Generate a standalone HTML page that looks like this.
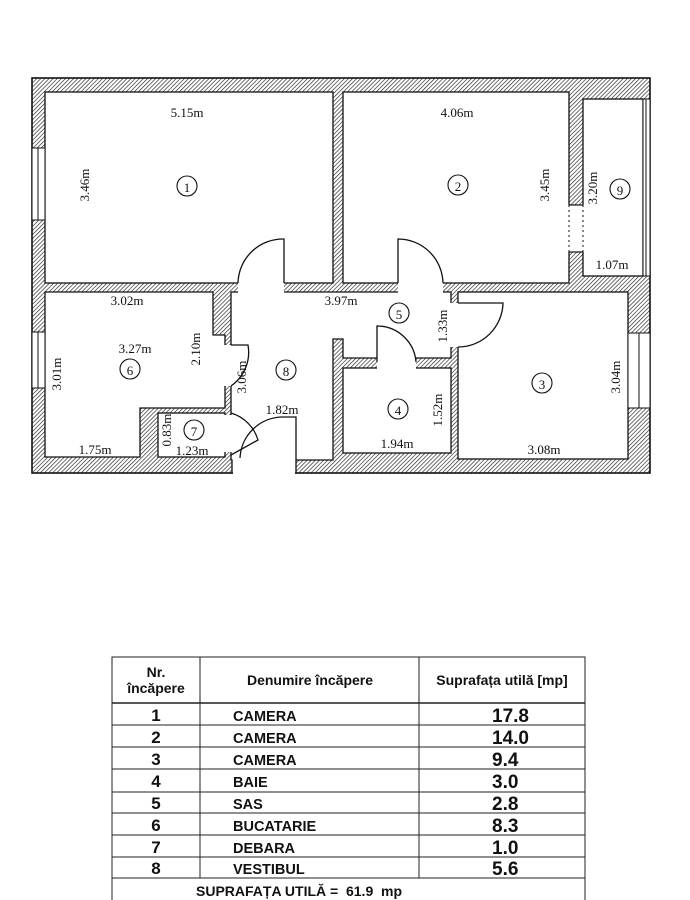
<!DOCTYPE html>
<html><head><meta charset="utf-8"><style>
html,body{margin:0;padding:0;background:#fff;}
svg{display:block;}
.d{font-family:"Liberation Serif",serif;font-size:13px;fill:#111;}
.t{font-family:"Liberation Sans",sans-serif;font-weight:bold;fill:#111;}
</style></head><body>
<svg width="690" height="900" viewBox="0 0 690 900" xmlns="http://www.w3.org/2000/svg">
<defs>
<pattern id="h" width="2.9" height="2.9" patternUnits="userSpaceOnUse" patternTransform="rotate(45)">
<rect width="2.9" height="2.9" fill="#fff"/><line x1="0" y1="0" x2="0" y2="2.9" stroke="#222" stroke-width="1.3"/>
</pattern>
</defs>
<rect x="0" y="0" width="690" height="900" fill="#fff"/>
<rect x="32" y="78" width="618" height="395" fill="url(#h)" stroke="#111" stroke-width="1.6"/>
<g fill="#fff" stroke="#111" stroke-width="1.3">
<rect x="45" y="92" width="288" height="191"/>
<rect x="343" y="92" width="226" height="191"/>
<rect x="583" y="99" width="60" height="177"/>
<polygon points="45,292 213,292 213,335 225,335 225,408 140,408 140,457 45,457"/>
<rect x="158" y="413" width="67" height="44"/>
<polygon points="231,292 451,292 451,358 343,358 343,339 333,339 333,460 296,460 296,473 232,473 232,460 231,460"/>
<rect x="343" y="368" width="108" height="85"/>
<rect x="458" y="292" width="170" height="167"/>
</g>
<g fill="#fff" stroke="none">
<rect x="238" y="282" width="46" height="11"/>
<rect x="398" y="282" width="45" height="11"/>
<rect x="224" y="345" width="8" height="41"/>
<rect x="224" y="415" width="8" height="37"/>
<rect x="233" y="459" width="62" height="15"/>
<rect x="377" y="357" width="39" height="12"/>
<rect x="450" y="303" width="9" height="44"/>
<rect x="568" y="205" width="16" height="47"/>
</g>
<line x1="569" y1="205" x2="569" y2="252" stroke="#111" stroke-dasharray="2,3"/>
<line x1="583" y1="205" x2="583" y2="252" stroke="#111" stroke-dasharray="2,3"/>
<line x1="569" y1="205" x2="583" y2="205" stroke="#111" stroke-width="1.2"/>
<line x1="569" y1="252" x2="583" y2="252" stroke="#111" stroke-width="1.2"/>
<g fill="#fff" stroke="#111" stroke-width="1">
<rect x="32" y="148" width="13" height="72"/><line x1="38" y1="148" x2="38" y2="220"/>
<rect x="32" y="332" width="13" height="56"/><line x1="38" y1="332" x2="38" y2="388"/>
<rect x="628" y="333" width="22" height="75"/><line x1="639" y1="333" x2="639" y2="408"/>
<rect x="643" y="99" width="7" height="177"/><line x1="646" y1="99" x2="646" y2="276"/>
</g>
<g fill="none" stroke="#111" stroke-width="1.3">
<path d="M284,283 L284,239 A45,45 0 0 0 238,283"/>
<path d="M398,283 L398,239 A45,45 0 0 1 443,283"/>
<path d="M231,345 L248,345 A41,41 0 0 1 231,386"/>
<path d="M231,413 A40,40 0 0 1 258,440 L231,455"/>
<path d="M296,460 L296,417 L283,417 A43,43 0 0 0 240,458"/>
<path d="M377,362 L377,326 A39,39 0 0 1 416,362"/>
<path d="M458,303 L503,303 A45,45 0 0 1 458,347"/>
</g>
<g fill="none" stroke="#111" stroke-width="1.1">
<circle cx="187" cy="186" r="10"/><circle cx="458" cy="185" r="10"/><circle cx="620" cy="189" r="10"/>
<circle cx="130" cy="369" r="10"/><circle cx="194" cy="430" r="10"/><circle cx="286" cy="370" r="10"/>
<circle cx="399" cy="313" r="10"/><circle cx="398" cy="409" r="10"/><circle cx="542" cy="383" r="10"/>
</g>
<g class="d" text-anchor="middle" font-size="17">
<text x="187" y="192">1</text><text x="458" y="191">2</text><text x="620" y="195">9</text>
<text x="130" y="375">6</text><text x="194" y="436">7</text><text x="286" y="376">8</text>
<text x="399" y="319">5</text><text x="398" y="415">4</text><text x="542" y="389">3</text>
</g>
<g class="d" text-anchor="middle">
<text x="187" y="117">5.15m</text>
<text x="457" y="117">4.06m</text>
<text x="127" y="305">3.02m</text>
<text x="341" y="305">3.97m</text>
<text x="135" y="353">3.27m</text>
<text x="282" y="414">1.82m</text>
<text x="95" y="454">1.75m</text>
<text x="192" y="455">1.23m</text>
<text x="397" y="448">1.94m</text>
<text x="544" y="454">3.08m</text>
<text x="612" y="269">1.07m</text>
<text transform="translate(89,185) rotate(-90)">3.46m</text>
<text transform="translate(549,185) rotate(-90)">3.45m</text>
<text transform="translate(597,188) rotate(-90)">3.20m</text>
<text transform="translate(61,374) rotate(-90)">3.01m</text>
<text transform="translate(200,349) rotate(-90)">2.10m</text>
<text transform="translate(246,377) rotate(-90)">3.06m</text>
<text transform="translate(171,430) rotate(-90)">0.83m</text>
<text transform="translate(447,326) rotate(-90)">1.33m</text>
<text transform="translate(442,410) rotate(-90)">1.52m</text>
<text transform="translate(620,377) rotate(-90)">3.04m</text>
</g>
<g fill="none" stroke="#222" stroke-width="1">
<rect x="112" y="657" width="473" height="250"/>
<line x1="200" y1="657" x2="200" y2="878"/><line x1="419" y1="657" x2="419" y2="878"/>
<line x1="112" y1="703" x2="585" y2="703" stroke-width="1.5"/>
<line x1="112" y1="725" x2="585" y2="725"/><line x1="112" y1="747" x2="585" y2="747"/>
<line x1="112" y1="769" x2="585" y2="769"/><line x1="112" y1="792" x2="585" y2="792"/>
<line x1="112" y1="813" x2="585" y2="813"/><line x1="112" y1="835" x2="585" y2="835"/>
<line x1="112" y1="857" x2="585" y2="857"/><line x1="112" y1="878" x2="585" y2="878"/>
</g>
<g class="t" font-size="14">
<text x="156" y="677" text-anchor="middle">Nr.</text>
<text x="156" y="693" text-anchor="middle">încăpere</text>
<text x="310" y="685" text-anchor="middle">Denumire încăpere</text>
<text x="502" y="685" text-anchor="middle">Suprafața utilă [mp]</text>
</g>
<g class="t" font-size="17" text-anchor="middle">
<text x="156" y="721">1</text><text x="156" y="743">2</text><text x="156" y="765">3</text><text x="156" y="787">4</text>
<text x="156" y="809">5</text><text x="156" y="831">6</text><text x="156" y="853">7</text><text x="156" y="874">8</text>
</g>
<g class="t" font-size="14.5">
<text x="233" y="721">CAMERA</text><text x="233" y="743">CAMERA</text><text x="233" y="765">CAMERA</text><text x="233" y="787">BAIE</text>
<text x="233" y="809">SAS</text><text x="233" y="831">BUCATARIE</text><text x="233" y="853">DEBARA</text><text x="233" y="874">VESTIBUL</text>
</g>
<g class="t" font-size="19">
<text x="492" y="722">17.8</text><text x="492" y="744">14.0</text><text x="492" y="766">9.4</text><text x="492" y="788">3.0</text>
<text x="492" y="810">2.8</text><text x="492" y="832">8.3</text><text x="492" y="854">1.0</text><text x="492" y="875">5.6</text>
</g>
<text class="t" font-size="14" x="196" y="896" xml:space="preserve">SUPRAFAȚA UTILĂ =  61.9  mp</text>
</svg>
</body></html>
